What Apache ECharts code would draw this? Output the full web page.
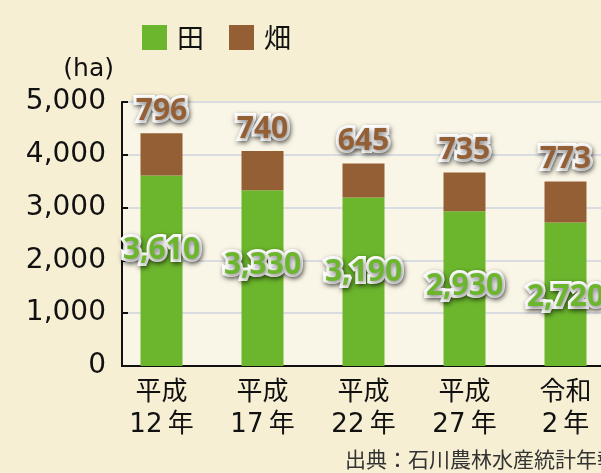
<!DOCTYPE html>
<html>
<head>
<meta charset="utf-8">
<script src="https://cdn.jsdelivr.net/npm/echarts@6/dist/echarts.min.js"></script>
<style>
  html, body { margin: 0; padding: 0; background: #f6efd3; }
  #chart { width: 601px; height: 473px; }
</style>
</head>
<body>
<div id="chart"></div>
<script>
// 年次
const years = ['平成\n12\u2009年', '平成\n17\u2009年', '平成\n22\u2009年', '平成\n27\u2009年', '令和\n2\u2009年'];
// 田 (ha)
const paddy = [3610, 3330, 3190, 2930, 2720];
// 畑 (ha)
const field = [796, 740, 645, 735, 773];
const yTicks = { min: 0, max: 5000, interval: 1000 };

const font = "'DejaVu Sans', 'Noto Sans CJK JP', sans-serif";
const green = '#6cb62d';
const brown = '#955f35';

function valLabel(color) {
  return {
    show: true,
    color: color,
    fontFamily: 'Noto Sans',
    fontWeight: 'bold',
    fontSize: 30,
    textBorderColor: '#fff',
    textBorderWidth: 6,
    textShadowColor: 'rgba(0,0,0,0.55)',
    textShadowBlur: 5,
    textShadowOffsetX: 1,
    textShadowOffsetY: 2,
    formatter: p => p.value.toLocaleString('en-US')
  };
}

const chart = echarts.init(document.getElementById('chart'));
chart.setOption({
  backgroundColor: '#f6efd3',
  textStyle: { fontFamily: font },
  legend: {
    left: 137,
    top: 19,
    itemWidth: 25,
    itemHeight: 25,
    itemGap: 25,
    icon: 'rect',
    textStyle: { fontSize: 27, color: '#111', fontFamily: "'Noto Sans CJK JP'", padding: [0, 0, 0, 5] },
    data: ['田', '畑']
  },
  grid: {
    left: 111,
    top: 102,
    width: 505,
    height: 264,
    outerBoundsMode: 'none',
    show: true,
    borderWidth: 0,
    backgroundColor: '#faf6e7'
  },
  xAxis: {
    type: 'category',
    data: years,
    axisLine: { lineStyle: { color: '#111', width: 2 } },
    axisTick: { inside: true, length: 10, lineStyle: { color: '#111', width: 2 } },
    axisLabel: { color: '#111', fontSize: 26, lineHeight: 32, margin: 11 }
  },
  yAxis: {
    type: 'value',
    min: yTicks.min,
    max: yTicks.max,
    interval: yTicks.interval,
    offset: -11,
    name: '(ha)',
    nameLocation: 'end',
    nameGap: 20,
    nameTextStyle: { fontSize: 25, color: '#111', align: 'right', padding: [0, 8, 0, 0] },
    axisLine: { show: true, lineStyle: { color: '#111', width: 2 } },
    axisTick: { show: true, inside: true, length: 6, lineStyle: { color: '#111', width: 2 } },
    axisLabel: {
      color: '#111', fontSize: 28, margin: 16,
      formatter: v => v.toLocaleString('en-US')
    },
    splitLine: { lineStyle: { color: '#d9dce0', width: 2 } }
  },
  graphic: [{
    type: 'rect',
    z: 1,
    shape: { x: 106, y: 95, width: 15, height: 275 },
    style: { fill: '#f6efd3' }
  }, {
    type: 'text',
    left: 345,
    top: 449,
    style: { text: '出典：石川農林水産統計年報', fontSize: 21, fill: '#333', fontFamily: "'Noto Sans CJK JP'" }
  }],
  series: [{
    name: '田',
    type: 'bar',
    stack: 'total',
    barWidth: 42,
    itemStyle: { color: green },
    label: Object.assign(valLabel(green), { position: ['50%', 75], align: 'center', verticalAlign: 'middle' }),
    data: paddy
  }, {
    name: '畑',
    type: 'bar',
    stack: 'total',
    barWidth: 42,
    itemStyle: { color: brown },
    label: Object.assign(valLabel(brown), { position: 'top', distance: 7 }),
    data: field
  }]
});
</script>
</body>
</html>
